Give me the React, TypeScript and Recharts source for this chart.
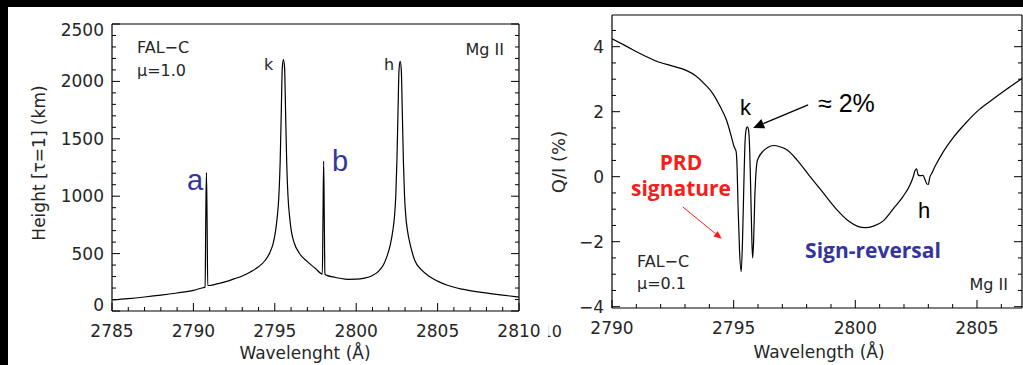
import React from 'react';
import { LineChart, Line, XAxis, YAxis, ReferenceLine } from 'recharts';

// ---------- Left panel: height of tau=1 (km) vs wavelength ----------
const heightWavelength = [
  2785, 2786, 2787, 2788, 2789, 2790, 2790.6, 2790.72, 2790.76, 2790.8, 2790.84, 2790.88, 2791.0,
  2791.5, 2792.0, 2792.5, 2793.0, 2793.5, 2794.0, 2794.4, 2794.7, 2794.9, 2795.05, 2795.15, 2795.25,
  2795.33, 2795.4, 2795.46, 2795.53, 2795.6, 2795.66, 2795.73, 2795.81, 2795.91, 2796.01, 2796.2,
  2796.5, 2797.0, 2797.5, 2797.92, 2797.96, 2798.0, 2798.04, 2798.08, 2798.2, 2798.6, 2799.0, 2799.5,
  2800.0, 2800.5, 2801.0, 2801.4, 2801.7, 2801.9, 2802.1, 2802.25, 2802.35, 2802.43, 2802.5, 2802.57,
  2802.63, 2802.7, 2802.77, 2802.83, 2802.9, 2802.97, 2803.05, 2803.15, 2803.35, 2803.6, 2804.0,
  2804.5, 2805.0, 2805.6, 2806.5, 2807.7, 2809.0, 2810.0,
];
const heightKm = [
  97, 108, 122, 138, 157, 180, 203, 208, 800, 1205, 800, 222, 222,
  238, 256, 280, 305, 340, 385, 440, 510, 590, 700, 820, 1000,
  1300, 1750, 2120, 2190, 2120, 1750, 1300, 1000, 820, 700, 590,
  505, 430, 370, 322, 800, 1305, 800, 322, 310, 297, 285, 276,
  277, 286, 310, 350, 410, 480, 580, 700, 820, 1000, 1300, 1750,
  2100, 2175, 2100, 1750, 1300, 1000, 820, 700, 560, 440, 360,
  300, 260, 224, 190, 162, 138, 122,
];

// ---------- Right panel: Q/I (%) vs wavelength ----------
const polWavelength = [
  2790.0, 2790.6, 2791.15, 2791.8, 2792.5, 2793.05, 2793.45, 2793.85, 2794.15, 2794.45, 2794.7,
  2794.9, 2795.02, 2795.1, 2795.14, 2795.18, 2795.24, 2795.31, 2795.37, 2795.42, 2795.47, 2795.52,
  2795.56, 2795.61, 2795.66, 2795.71, 2795.75, 2795.78, 2795.82, 2795.87, 2795.9, 2795.96, 2796.02,
  2796.2, 2796.4, 2796.63, 2796.9, 2797.2, 2797.6, 2798.1, 2798.65, 2799.2, 2799.75, 2800.1, 2800.4,
  2800.75, 2801.15, 2801.55, 2801.95, 2802.25, 2802.38, 2802.46, 2802.52, 2802.58, 2802.65, 2802.78,
  2802.86, 2802.94, 2803.0, 2803.06, 2803.14, 2803.3, 2803.6, 2804.0, 2804.55, 2805.1, 2805.65,
  2806.2, 2806.85,
];
const polQI = [
  4.24, 4.01, 3.79, 3.56, 3.40, 3.27, 3.10, 2.82, 2.55, 2.15, 1.75,
  1.25, 0.92, 0.78, 0.3, -0.9, -2.25, -2.92, -1.8, -0.2, 1.1, 1.48,
  1.53, 1.45, 0.8, -0.7, -2.0, -2.5, -2.0, -0.6, -0.1, 0.45, 0.58,
  0.78, 0.9, 0.96, 0.92, 0.82, 0.52, 0.04, -0.47, -0.98, -1.38, -1.53, -1.57,
  -1.52, -1.36, -1.0, -0.62, -0.25, 0.0, 0.2, 0.24, 0.06, 0.03, 0.04,
  -0.08, -0.22, -0.24, -0.02, 0.1, 0.35, 0.75, 1.18, 1.66, 2.07, 2.38,
  2.68, 3.02,
];

// ---------- Ticks ----------
const heightXMajor = [2785, 2790, 2795, 2800, 2805, 2810];
const heightXMinor = [
  2785, 2786, 2787, 2788, 2789, 2790, 2791, 2792, 2793, 2794, 2795, 2796, 2797,
  2798, 2799, 2800, 2801, 2802, 2803, 2804, 2805, 2806, 2807, 2808, 2809, 2810,
];
const heightYMajor = [0, 500, 1000, 1500, 2000, 2500];
const heightYMinor = [
  0, 100, 200, 300, 400, 500, 600, 700, 800, 900, 1000, 1100, 1200, 1300,
  1400, 1500, 1600, 1700, 1800, 1900, 2000, 2100, 2200, 2300, 2400, 2500,
];
const polXMajor = [2790, 2795, 2800, 2805];
const polXMinor = [
  2790, 2791, 2792, 2793, 2794, 2795, 2796, 2797, 2798, 2799, 2800,
  2801, 2802, 2803, 2804, 2805, 2806,
];
const polYMajor = [-4, -2, 0, 2, 4];
const polYMinor = [-4, -3.5, -3, -2.5, -2, -1.5, -1, -0.5, 0, 0.5, 1, 1.5, 2, 2.5, 3, 3.5, 4, 4.5];

// annotation arrows (data coordinates of the right panel)
const kArrow = [{ x: 2798.06, y: 2.21 }, { x: 2795.8, y: 1.5 }];
const prdArrow = [{ x: 2792.91, y: -0.93 }, { x: 2794.51, y: -1.91 }];

const heightData = heightWavelength.map((w, i) => ({ w, v: heightKm[i] }));
const polData = polWavelength.map((w, i) => ({ w, v: polQI[i] }));

const FONT = '"DejaVu Sans", "Liberation Sans", sans-serif';
const ANNOT_FONT = '"Liberation Sans", Arial, sans-serif';
const BOLD_FONT = '"Open Sans", "Liberation Sans", sans-serif';
const M = 8;
const TICK_FONT = 17;
const TICK_COLOR = '#262626';

type TickOpts = {
  side: 'bottom' | 'top' | 'left' | 'right';
  majors: number[];
  majorLen: number;
  minorLen: number;
  labels: boolean;
  shiftDown?: number[];
  shiftUp?: number[];
};

function makeTick(o: TickOpts) {
  return (props: any) => {
    const { x, y, payload } = props;
    const v = payload.value;
    const isMajor = o.majors.includes(v);
    const len = isMajor ? o.majorLen : o.minorLen;
    const st = { stroke: '#000', strokeWidth: 1 };
    if (o.side === 'bottom') {
      const ay = y - M;
      return (
        <g>
          <line x1={x} x2={x} y1={ay} y2={ay - len} {...st} />
          {o.labels && isMajor && (
            <text x={x} y={ay + 26} textAnchor="middle" fontFamily={FONT} fontSize={TICK_FONT} fill={TICK_COLOR}>
              {v}
            </text>
          )}
        </g>
      );
    }
    if (o.side === 'top') {
      const ay = y + M;
      return <line x1={x} x2={x} y1={ay} y2={ay + len} {...st} />;
    }
    if (o.side === 'left') {
      const ax = x + M;
      let extra = 0;
      if (o.shiftDown && o.shiftDown.includes(v)) extra = 6;
      if (o.shiftUp && o.shiftUp.includes(v)) extra = -6;
      return (
        <g>
          <line x1={ax} x2={ax + len} y1={y} y2={y} {...st} />
          {o.labels && isMajor && (
            <text x={ax - 8} y={y + 6 + extra} textAnchor="end" fontFamily={FONT} fontSize={TICK_FONT} fill={TICK_COLOR}>
              {v < 0 ? '\u2212' + Math.abs(v) : v}
            </text>
          )}
        </g>
      );
    }
    const ax = x - M;
    return <line x1={ax} x2={ax - len} y1={y} y2={y} {...st} />;
  };
}

function arrowShape(color: string, headLen: number, headHalf: number, width: number) {
  return (props: any) => {
    const { x1, y1, x2, y2 } = props;
    const dx = x2 - x1;
    const dy = y2 - y1;
    const L = Math.sqrt(dx * dx + dy * dy) || 1;
    const ux = dx / L;
    const uy = dy / L;
    const bx = x2 - ux * headLen;
    const by = y2 - uy * headLen;
    const px = -uy * headHalf;
    const py = ux * headHalf;
    return (
      <g>
        <line x1={x1} y1={y1} x2={bx} y2={by} stroke={color} strokeWidth={width} />
        <polygon points={`${x2},${y2} ${bx + px},${by + py} ${bx - px},${by - py}`} fill={color} />
      </g>
    );
  };
}

const axisLine = { stroke: '#000', strokeWidth: 1.2 };

function HeightChart() {
  const xDomain: [number, number] = [2785, 2810];
  const yDomain: [number, number] = [0, 2500];
  return (
    <LineChart width={540} height={365} data={heightData} margin={{ top: 23, right: 20, bottom: 0, left: 0 }}>
      <XAxis xAxisId="b" dataKey="w" type="number" domain={xDomain} allowDataOverflow ticks={heightXMinor} interval={0}
        height={54} tickSize={0} tickMargin={M} tickLine={false} axisLine={axisLine}
        tick={makeTick({ side: 'bottom', majors: heightXMajor, majorLen: 8, minorLen: 4, labels: true })} />
      <XAxis xAxisId="t" orientation="top" type="number" domain={xDomain} allowDataOverflow ticks={heightXMinor} interval={0}
        height={1} tickSize={0} tickMargin={M} tickLine={false} axisLine={axisLine}
        tick={makeTick({ side: 'top', majors: heightXMajor, majorLen: 8, minorLen: 4, labels: false })} />
      <YAxis yAxisId="l" type="number" domain={yDomain} allowDataOverflow ticks={heightYMinor} interval={0}
        width={112} tickSize={0} tickMargin={M} tickLine={false} axisLine={axisLine}
        tick={makeTick({ side: 'left', majors: heightYMajor, majorLen: 8, minorLen: 4, labels: true, shiftDown: [2500], shiftUp: [0] })} />
      <YAxis yAxisId="r" orientation="right" type="number" domain={yDomain} allowDataOverflow ticks={heightYMinor} interval={0}
        width={1} tickSize={0} tickMargin={M} tickLine={false} axisLine={axisLine}
        tick={makeTick({ side: 'right', majors: heightYMajor, majorLen: 8, minorLen: 4, labels: false })} />
      <Line xAxisId="b" yAxisId="l" dataKey="v" type="monotone" dot={false} stroke="#000" strokeWidth={1.2}
        isAnimationActive={false} />
    </LineChart>
  );
}

function PolChart() {
  const xDomain: [number, number] = [2790, 2806.85];
  const yDomain: [number, number] = [-4.04, 4.975];
  return (
    <LineChart width={490} height={365} data={polData} margin={{ top: 14, right: 7, bottom: 0, left: 0 }}>
      <XAxis xAxisId="b" dataKey="w" type="number" domain={xDomain} allowDataOverflow ticks={polXMinor} interval={0}
        height={57} tickSize={0} tickMargin={M} tickLine={false} axisLine={axisLine}
        tick={makeTick({ side: 'bottom', majors: polXMajor, majorLen: 8, minorLen: 4, labels: true })} />
      <XAxis xAxisId="t" orientation="top" type="number" domain={xDomain} allowDataOverflow ticks={polXMinor} interval={0}
        height={1} tickSize={0} tickMargin={M} tickLine={false} axisLine={axisLine}
        tick={makeTick({ side: 'top', majors: polXMajor, majorLen: 7, minorLen: 3, labels: false })} />
      <YAxis yAxisId="l" type="number" domain={yDomain} allowDataOverflow ticks={polYMinor} interval={0}
        width={72} tickSize={0} tickMargin={M} tickLine={false} axisLine={axisLine}
        tick={makeTick({ side: 'left', majors: polYMajor, majorLen: 8, minorLen: 4, labels: true })} />
      <YAxis yAxisId="r" orientation="right" type="number" domain={yDomain} allowDataOverflow ticks={polYMinor} interval={0}
        width={1} tickSize={0} tickMargin={M} tickLine={false} axisLine={axisLine}
        tick={makeTick({ side: 'right', majors: polYMajor, majorLen: 8, minorLen: 4, labels: false })} />
      <Line xAxisId="b" yAxisId="l" dataKey="v" type="monotone" dot={false} stroke="#000" strokeWidth={1.2}
        isAnimationActive={false} />
      <ReferenceLine xAxisId="b" yAxisId="l" segment={kArrow} ifOverflow="visible"
        shape={arrowShape('#000', 11, 5, 1.3)} />
      <ReferenceLine xAxisId="b" yAxisId="l" segment={prdArrow} ifOverflow="visible"
        shape={arrowShape('#ff1a1a', 8, 3.5, 1)} />
    </LineChart>
  );
}

const txt = { fontFamily: FONT, fill: '#262626' } as const;
const BLUE = '#34349c';

export default function App() {
  return (
    <div style={{ position: 'fixed', left: 0, top: 0, width: 1023, height: 365, overflow: 'hidden', background: '#fff' }}>
      <div style={{ position: 'absolute', left: 0, top: 0 }}>
        <HeightChart />
      </div>
      <div style={{ position: 'absolute', left: 540, top: 0 }}>
        <PolChart />
      </div>
      <svg width={1023} height={365} style={{ position: 'absolute', left: 0, top: 0, pointerEvents: 'none' }}>
        <defs>
          <clipPath id="frag">
            <rect x={548} y={310} width={16} height={40} />
          </clipPath>
        </defs>
        {/* left panel texts */}
        <text x={137} y={53} fontSize={16} {...txt}>FAL{'\u2212'}C</text>
        <text x={137} y={76} fontSize={16} {...txt}>{'\u03BC'}=1.0</text>
        <text x={264} y={70} fontSize={16} {...txt}>k</text>
        <text x={384} y={70} fontSize={16} {...txt}>h</text>
        <text x={504} y={55} fontSize={16} textAnchor="end" {...txt}>Mg  II</text>
        <text x={187} y={190} fontSize={29} fontFamily={ANNOT_FONT} fill={BLUE}>a</text>
        <text x={332} y={171} fontSize={29} fontFamily={ANNOT_FONT} fill={BLUE}>b</text>
        <text x={305} y={359} fontSize={17} textAnchor="middle" {...txt}>Wavelenght ({'\u00C5'})</text>
        <text x={0} y={0} fontSize={17} textAnchor="middle" transform="translate(45,163) rotate(-90)" {...txt}>
          Height [{'\u03C4'}=1] (km)
        </text>
        <text x={562} y={337} fontSize={16} textAnchor="end" clipPath="url(#frag)" {...txt}>10</text>

        {/* right panel texts */}
        <text x={0} y={0} fontSize={18} textAnchor="middle" transform="translate(565,162) rotate(-90)" {...txt}>
          Q/I (%)
        </text>
        <text x={819} y={358} fontSize={17} textAnchor="middle" {...txt}>Wavelength ({'\u00C5'})</text>
        <text x={740} y={115} fontSize={22} fontFamily={ANNOT_FONT} fill="#000">k</text>
        <text x={818} y={112} fontSize={25} fontFamily={ANNOT_FONT} fill="#000">{'\u2248'} 2%</text>
        <text x={918} y={218} fontSize={22} fontFamily={ANNOT_FONT} fill="#000">h</text>
        <text x={681} y={170} fontSize={21} fontWeight={700} textAnchor="middle" fontFamily={BOLD_FONT} fill="#ff1a1a">PRD</text>
        <text x={681} y={196} fontSize={21} fontWeight={700} textAnchor="middle" fontFamily={BOLD_FONT} fill="#ff1a1a">signature</text>
        <text x={873} y={258} fontSize={21} fontWeight={700} textAnchor="middle" fontFamily={BOLD_FONT} fill={BLUE}>Sign-reversal</text>
        <text x={637} y={267} fontSize={16} {...txt}>FAL{'\u2212'}C</text>
        <text x={637} y={289} fontSize={16} {...txt}>{'\u03BC'}=0.1</text>
        <text x={1008} y={290} fontSize={16} textAnchor="end" {...txt}>Mg  II</text>
      </svg>
      <div style={{ position: 'absolute', left: 0, top: 0, width: 1023, height: 7, background: '#000' }} />
      <div style={{ position: 'absolute', left: 0, top: 0, width: 8, height: 365, background: '#000' }} />
    </div>
  );
}
